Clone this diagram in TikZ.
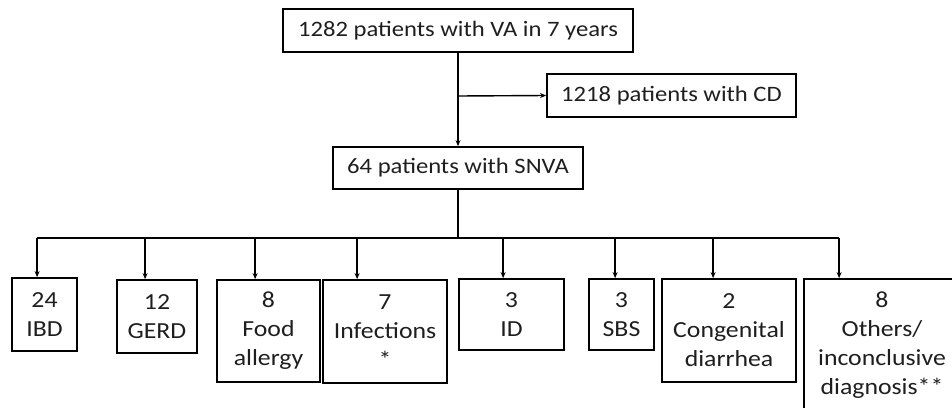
\documentclass[tikz,border=0pt]{standalone}
\usepackage{fontspec}
\setmainfont{Carlito}[FakeStretch=1.12]
\usetikzlibrary{arrows.meta}
\definecolor{txt}{RGB}{30,30,30}
\tikzset{
  box/.style={draw=black, line width=1.8pt, rectangle, inner sep=0pt, align=center, text=txt},
  topbox/.style={box, font=\fontsize{22}{28}\selectfont},
  catbox/.style={box, font=\fontsize{23}{29}\selectfont},
  conn/.style={draw=black, line width=1.4pt},
  arr/.style={conn, -{Stealth[length=6pt,width=5pt]}}
}
\begin{document}
\begin{tikzpicture}[x=1pt,y=-1pt]
\useasboundingbox (0,0) rectangle (952,407);
\clip (0,0) rectangle (952,407);
% top level
\node[topbox, minimum width=350, minimum height=43] (top) at (458,30.5) {1282 patients with VA in 7 years};
\node[topbox, minimum width=249, minimum height=43] (cd) at (671.5,95.5) {1218 patients with CD};
\node[topbox, minimum width=250, minimum height=42] (snva) at (458,168) {64 patients with SNVA};
% categories
\node[catbox, minimum width=65, minimum height=73] (ibd) at (44.5,314.5) {24\\IBD};
\node[catbox, minimum width=80, minimum height=73] (gerd) at (157,316.5) {12\\GERD};
\node[catbox, minimum width=103, minimum height=102] (food) at (268.5,331) {8\\Food\\allergy};
\node[catbox, minimum width=124, minimum height=103] (inf) at (385,331.5) {7\\Infections\\*};
\node[catbox, minimum width=105, minimum height=71] (id) at (511.5,314.5) {3\\ID};
\node[catbox, minimum width=65, minimum height=71] (sbs) at (621.5,314.5) {3\\SBS};
\node[catbox, minimum width=134, minimum height=103] (cong) at (729,330.5) {2\\Congenital\\diarrhea};
\node[catbox, minimum width=156, minimum height=132] (oth) at (882,345) {8\\Others/\\inconclusive\\diagnosis**};
% connectors
\coordinate (branch) at (458,96);
\coordinate (hub) at (458,238);
\draw[arr] (top.south) -- (snva.north);
\draw[arr] (branch) -- (cd.west);
\draw[conn] (snva.south) -- (hub);
\draw[conn] ([xshift=26pt]ibd.north west |- hub) -- ([xshift=36pt]oth.north west |- hub);
\draw[arr] ([xshift=26pt]ibd.north west |- hub) -- ([xshift=26pt]ibd.north west);
\draw[arr] ([xshift=29pt]gerd.north west |- hub) -- ([xshift=29pt]gerd.north west);
\draw[arr] ([xshift=39pt]food.north west |- hub) -- ([xshift=39pt]food.north west);
\draw[arr] ([xshift=35pt]inf.north west |- hub) -- ([xshift=35pt]inf.north west);
\draw[arr] ([xshift=45pt]id.north west |- hub) -- ([xshift=45pt]id.north west);
\draw[arr] ([xshift=27pt]sbs.north west |- hub) -- ([xshift=27pt]sbs.north west);
\draw[arr] ([xshift=52pt]cong.north west |- hub) -- ([xshift=52pt]cong.north west);
\draw[arr] ([xshift=36pt]oth.north west |- hub) -- ([xshift=36pt]oth.north west);
\end{tikzpicture}
\end{document}
